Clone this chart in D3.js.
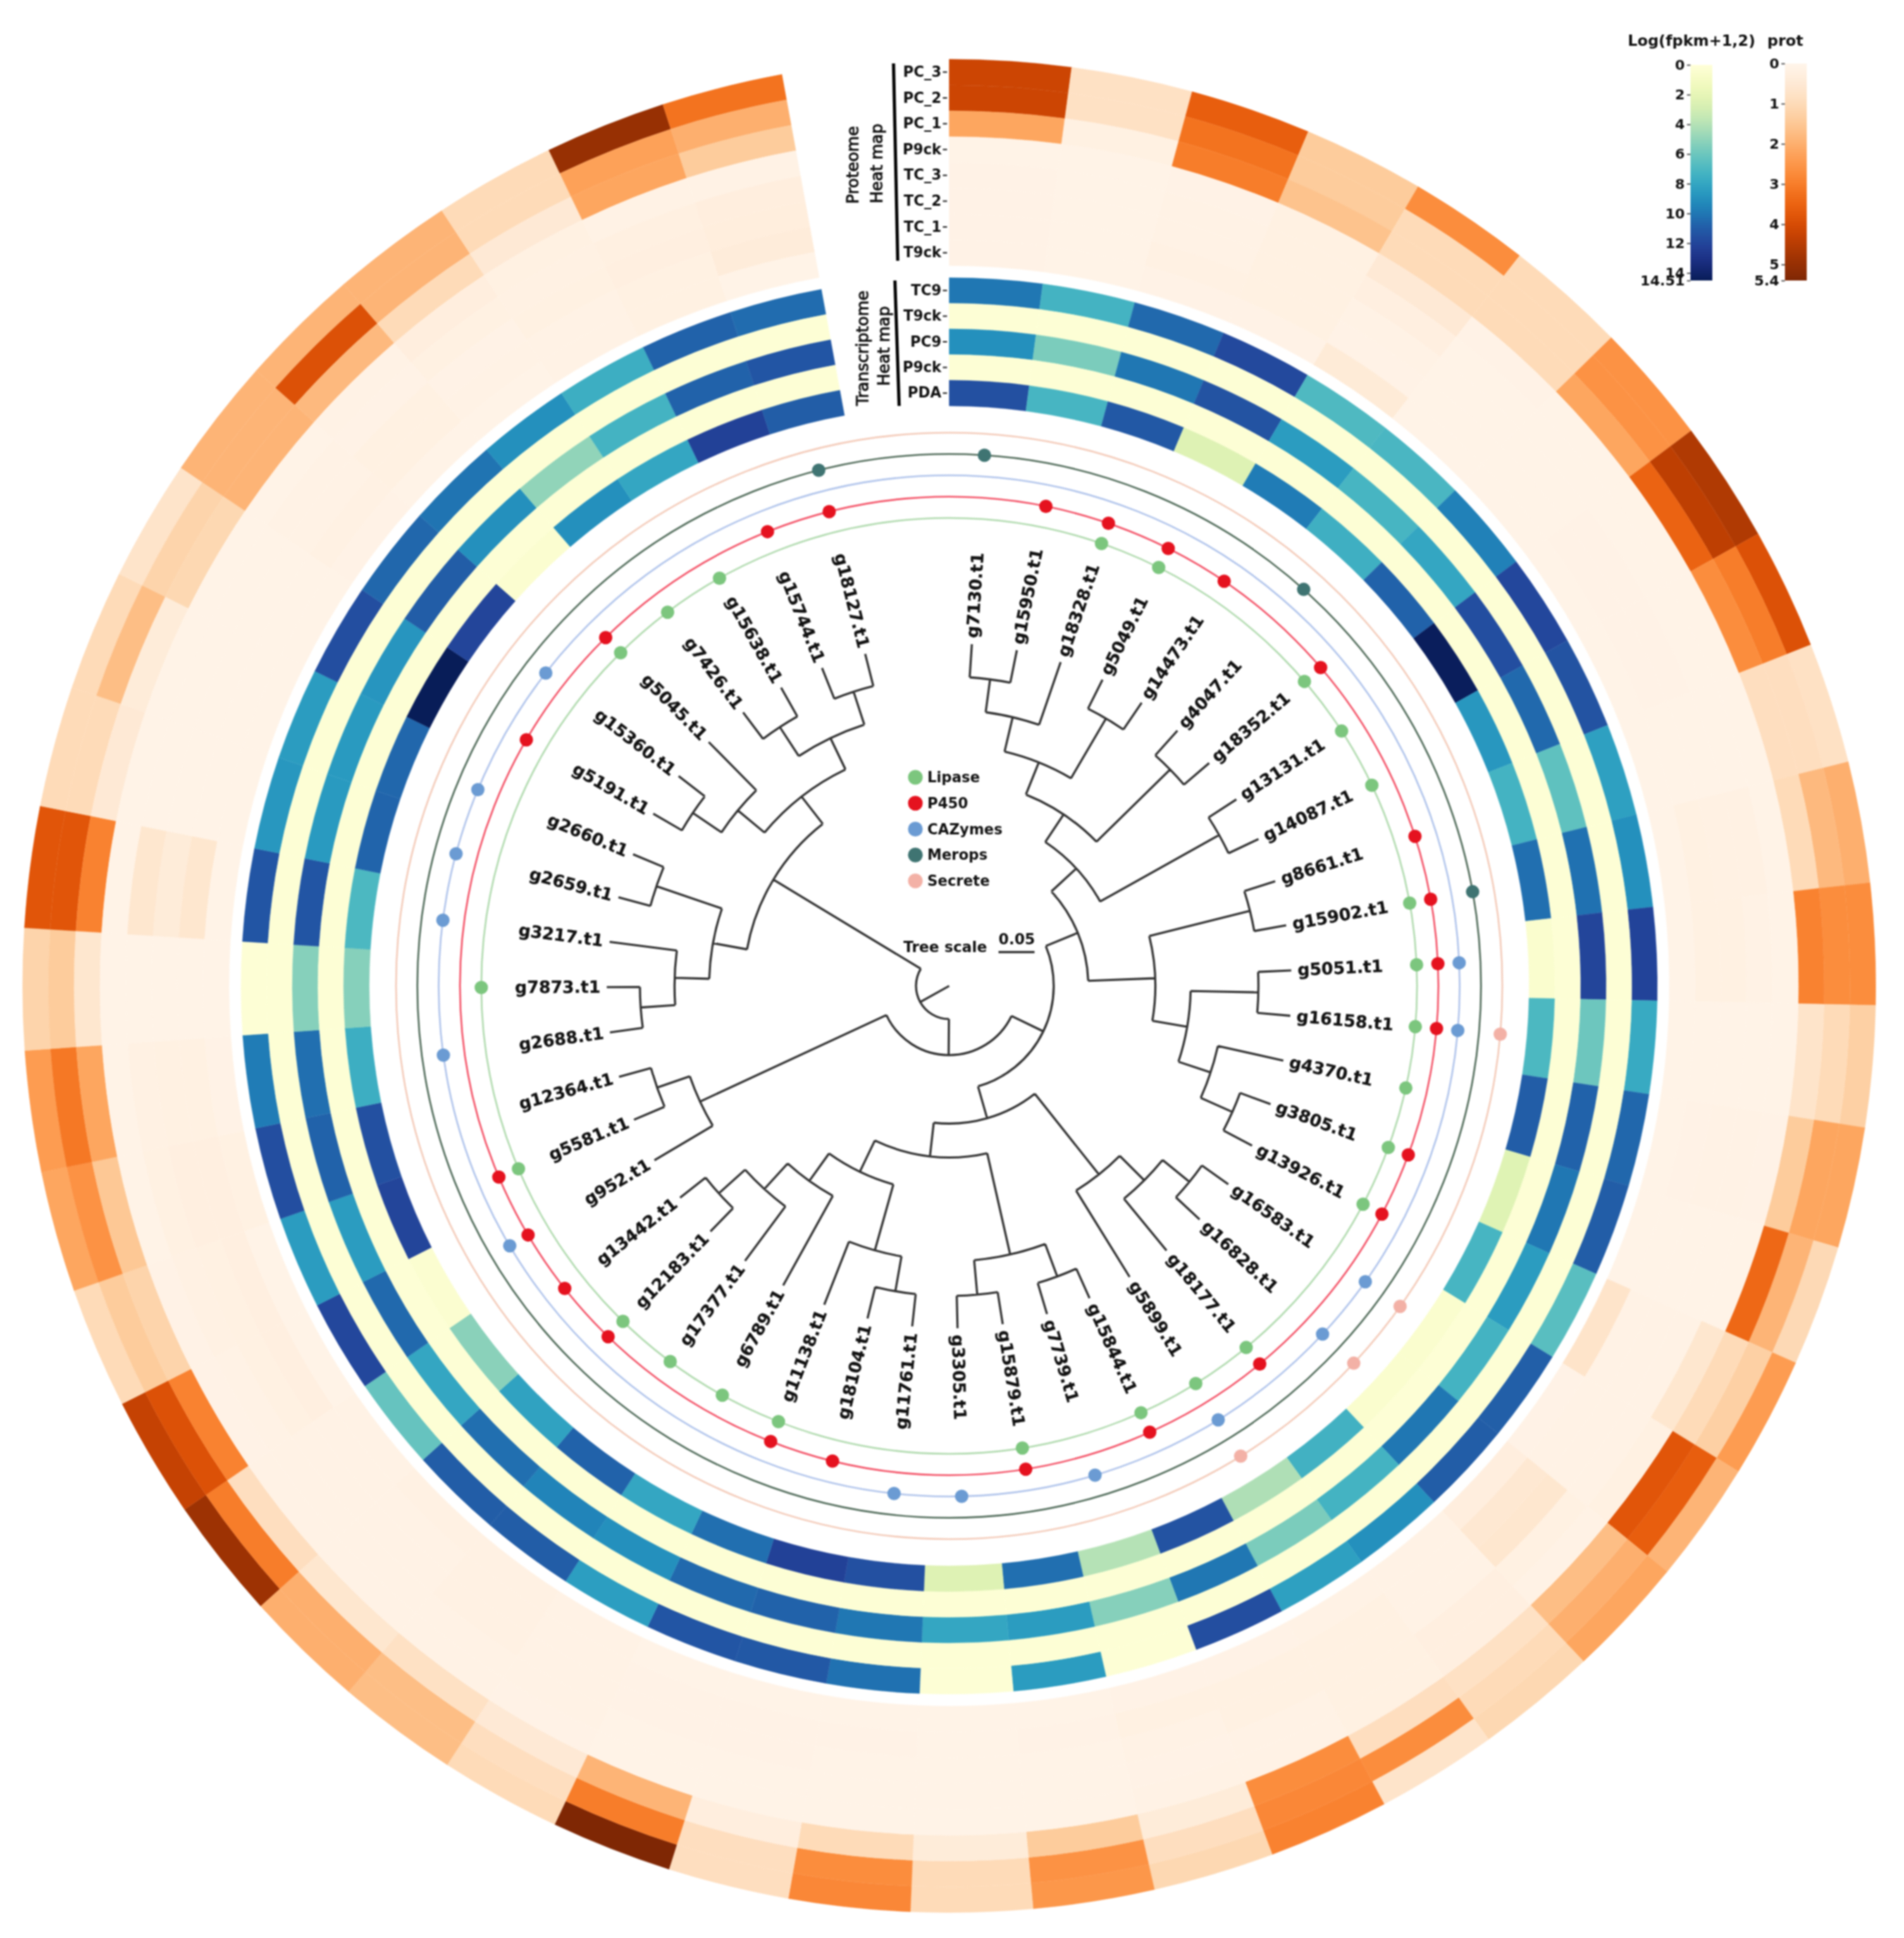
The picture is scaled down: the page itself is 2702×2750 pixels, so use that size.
<!DOCTYPE html>
<html>
<head>
<meta charset="utf-8">
<script src="https://cdn.jsdelivr.net/npm/d3@7"></script>
<style>
html, body { margin: 0; background: #fff; }
svg { display: block; filter: blur(1.1px); }
text { font-family: "DejaVu Sans", sans-serif; fill: #111; }
</style>
</head>
<body>
<svg id="chart" width="2702" height="2750"></svg>
<script>
// leaves, clockwise from the top of the circle
const leafNames = ['g7130.t1','g15950.t1','g18328.t1','g5049.t1','g14473.t1','g4047.t1','g18352.t1','g13131.t1','g14087.t1','g8661.t1','g15902.t1','g5051.t1','g16158.t1','g4370.t1','g3805.t1','g13926.t1','g16583.t1','g16828.t1','g18177.t1','g5899.t1','g15844.t1','g7739.t1','g15879.t1','g3305.t1','g11761.t1','g18104.t1','g11138.t1','g6789.t1','g17377.t1','g12183.t1','g13442.t1','g952.t1','g5581.t1','g12364.t1','g2688.t1','g7873.t1','g3217.t1','g2659.t1','g2660.t1','g5191.t1','g15360.t1','g5045.t1','g7426.t1','g15638.t1','g15744.t1','g18127.t1'];
const leafParents = ['n01','n01','n012','n34','n34','n56','n56','n78','n78','n910','n910','n1112','n1112','W','n1415','n1415','H','H','G','E','n2021','n2021','n2223','n2223','n2425','n2425','K','L','M','N','N','P','n3233','n3233','n3435','n3435','V2','n3738','n3738','n3940','n3940','S','n4243','n4243','n4445','n4445'];
const leafDepth = 0.475;

// internal nodes of the tree, depth in tree scale units
const nodeIds =     ['root','A',  'B',  'T',  'C',  'P',  'X',  'D',  'n245','Y',  'n3456','n78','n34x','n56','n012','n34','n01','n910','Z',  'n1112','W',  'n1415','E',  'F', 'G',  'H',  'I',  'J',  'n2223','n2021','K',  'L',  'n2425','M',  'N',  'n3233','U',  'R',  'S',  'O',  'n3940','n4243','n4445','n3738','V2', 'n3435'];
const nodeParents = [null,  'root','A', 'A',  'B',  'B',  'C',  'C',  'X',   'X',  'n245', 'n245','n3456','n3456','n34x','n34x','n012','Y','Y',  'Z',    'Z',  'W',    'D',  'D', 'E',  'G',  'F',  'F',  'I',    'I',    'J',  'J',  'K',    'L',  'M',  'P',    'T',  'T',  'R',  'R',  'S',    'O',    'O',    'U',    'U',  'V2'];
const nodeDepths =  [0,     0.046,0.096,0.285,0.145,0.381,0.193,0.191,0.24,  0.286,0.286, 0.429,0.334, 0.429,0.383, 0.43, 0.429,0.43,0.335,0.429,0.382,0.43,  0.334,0.238,0.382,0.43,0.382,0.286,0.43,  0.43,   0.381,0.333,0.43,   0.381,0.43, 0.429,  0.333,0.333,0.381,0.381,0.429,  0.429,  0.429,  0.429,  0.381,0.429];

// proteome heat map rings, outermost first
const proteomeRings = ['PC_3','PC_2','PC_1','P9ck','TC_3','TC_2','TC_1','T9ck'];
const protPC3 = [4.2,.8,3.6,1.4,2.7,1,2.6,4.6,3.9,.8,2,2.7,1.3,2.2,1.05,2.4,1.9,2.2,1.1,.7,2.9,1.1,2.5,1,2.8,.9,5.4,1,1.7,2,4.9,4.3,1,2.2,2.4,1.2,3.8,1,1,.7,1.9,1.9,1.9,1,5,3.2];
const protPC2 = [4.2,.8,3.2,1.4,1,1,2.6,4.4,3,.9,1.8,2.7,1,2.2,1.9,1.3,3.6,2,1,2.7,2.8,.9,2.6,1,2.7,.9,3,.9,1.7,2,3,3.9,1.4,2.6,3.1,1.4,3.8,1,1.7,1.2,1.9,3.9,1.9,1,2.3,2];
const protPC1 = [2.2,.2,3,1.6,1,1,2.2,3.5,2.7,.9,1,2.9,.7,1.4,3.4,1,3.8,1.7,.8,.9,2.7,.4,1.4,.4,1,.3,1.9,.5,.8,.6,.9,2.9,1.2,1.5,2.2,.6,2.9,.5,.4,1.1,1.9,1.8,1,.5,2.2,1.4];
const protP9 =  [.1,.1,.12,.2,.5,.12,.1,.1,.1,.1,.1,.1,.1,.12,.1,.6,.2,.15,.25,.2,.15,.15,.1,.1,.1,.1,.1,.12,.15,.15,.15,.12,.12,.1,.1,.1,.1,.1,.1,.1,.1,.15,.3,.2,.15,.15];
const protTC3 = [.12,.1,.15,.2,.25,.1,.1,.1,.1,.1,.18,.15,.1,.15,.1,.15,.15,.2,.25,.2,.15,.12,.1,.1,.1,.1,.1,.15,.15,.15,.15,.15,.18,.2,.18,.1,.6,.1,.1,.1,.15,.12,.2,.18,.22,.3];
const protTC2 = [.12,.1,.15,.2,.15,.1,.1,.12,.12,.1,.18,.2,.1,.15,.1,.15,.15,.6,.15,.2,.2,.15,.1,.1,.1,.12,.12,.15,.18,.15,.15,.2,.2,.25,.2,.1,.4,.1,.1,.1,.15,.2,.12,.2,.25,.32];
const protTC1 = [.12,.1,.18,.2,.12,.1,.1,.12,.12,.1,.2,.2,.1,.12,.1,.15,.15,.55,.15,.2,.2,.2,.12,.1,.12,.12,.12,.15,.18,.15,.15,.25,.25,.25,.2,.1,.6,.1,.1,.1,.18,.2,.15,.15,.2,.38];
const protT9 =  [.12,.1,.12,.12,.45,.1,.1,.1,.1,.1,.1,.1,.1,.1,.1,.7,.12,.3,.15,.15,.12,.12,.1,.1,.1,.1,.1,.15,.18,.18,.15,.1,.1,.2,.12,.1,.1,.1,.1,.1,.12,.1,.1,.15,.2,.1];
const proteomeValues = [protPC3, protPC2, protPC1, protP9, protTC3, protTC2, protTC1, protT9];

// transcriptome heat map rings, outermost first
const transRings = ['TC9','T9ck','PC9','P9ck','PDA'];
const transTC9 = [10,7.3,10.5,11.8,6.9,7.1,9.6,11.9,11.4,8.3,9,12.1,7.8,10.6,11,6.6,10.9,11,9,8.3,11.6,.2,8.5,.2,10.2,11.2,11.3,8.4,11,11,6.2,11.9,8.5,11.6,9.8,.2,11.3,8.7,8.5,11.6,10.6,10.1,9,7.6,10.8,10.4];
const transT9 =  [.2,.2,.2,.2,.2,.2,.2,.2,.2,.2,.2,.2,.2,.2,.2,.2,.2,.2,.2,.2,.2,.2,.2,.2,.2,.2,.2,.2,.2,.2,.2,.2,.2,.2,.2,.2,.2,.2,.2,.2,.2,.2,.2,.2,.2,.2];
const transPC9 = [9,5.6,10,11.4,8.5,7.2,8,11.6,10.5,6.4,10.2,12,6,10.8,10,8.5,7.3,10,7.3,5.6,10,5.3,8.5,8,10,10.8,10.5,9,9.5,10.3,8,10.5,8.5,10.8,10.3,5.3,11.3,8.6,8.6,8.8,11,9,5,7.3,10.8,11.3];
const transP9 =  [.2,.2,.2,.2,.2,.2,.2,.2,.2,.2,.2,.2,.2,.2,.2,.2,.2,.2,.2,.2,.2,.2,.2,.2,.2,.2,.2,.2,.2,.2,.2,.2,.2,.2,.2,.2,.2,.2,.2,.2,.2,.2,.2,.2,.2,.2];
const transPDA = [11.5,7.2,11.2,2.5,9.8,7.5,10.8,14.4,8.7,7.3,10.3,.5,7,11,2.4,7.2,.5,.5,7.4,4.2,11.4,4,10.3,2.5,11.5,12.2,10.3,8,10.8,8.2,5.2,.4,12,11.5,7.6,5.3,7,10.7,10.6,14.5,12,.4,9,8,12.2,11];
const transValues = [transTC9, transT9, transPC9, transP9, transPDA];

// annotation rings: which leaf (by index) carries a dot
const featureNames = ['Lipase','P450','CAZymes','Merops','Secrete'];
const featureColors = ['#7cc67e','#e5121f','#6b9bd3','#3f7472','#f3b1a6'];
const lineColors = ['#b4dcb2','#f4586c','#b3c6ec','#56705f','#f4cdbc'];
const lipaseLeaves = [2,3,6,7,8,10,11,12,13,14,15,18,19,20,22,26,27,28,29,32,35,41,42,43];
const p450Leaves = [1,2,3,4,6,9,10,11,12,14,15,18,20,22,25,26,29,30,31,32,39,41,44,45];
const cazymeLeaves = [11,12,16,17,19,21,23,24,31,34,36,37,38,40];
const meropsLeaves = [0,5,10,45];
const secreteLeaves = [12,16,17,19];
const featureLeaves = [lipaseLeaves, p450Leaves, cazymeLeaves, meropsLeaves, secreteLeaves];

const expTicks = [0,2,4,6,8,10,12,14,14.51];
const protTicks = [0,1,2,3,4,5,5.4];

const svg = d3.select('#chart');
const chart = svg.append('g').attr('transform', 'translate(1347,1399)');

const angle = d3.scaleBand().domain(leafNames).range([0, 349.6 * Math.PI / 180]);
const midAngle = name => angle(name) + angle.bandwidth() / 2;

const expColor = d3.scaleSequential(d3.interpolateYlGnBu).domain([0, 14.51]);
const protColor = d3.scaleSequential(d3.interpolateOranges).domain([0, 5.4]);

// ring scales run on the vertical through the centre, so the axis can share them
const proteomeY = d3.scaleBand().domain(proteomeRings).range([-1315, -1022]);
const transY = d3.scaleBand().domain(transRings).range([-1005, -823]);

const cell = d3.arc();

function drawRings(names, values, y, color) {
    names.forEach((ring, k) => {
        chart.append('g').selectAll('path')
            .data(values[k])
            .join('path')
            .attr('d', (v, i) => cell({
                innerRadius: -(y(ring) + y.bandwidth()),
                outerRadius: -y(ring),
                startAngle: angle(leafNames[i]),
                endAngle: angle(leafNames[i]) + angle.bandwidth()
            }))
            .attr('fill', v => color(v))
            .attr('stroke', v => color(v))
            .attr('stroke-width', 0.4);
    });
}
drawRings(proteomeRings, proteomeValues, proteomeY, protColor);
drawRings(transRings, transValues, transY, expColor);

function ringAxis(y) {
    const g = chart.append('g')
        .attr('transform', 'translate(-3,0)')
        .call(d3.axisLeft(y).tickSize(6).tickPadding(2));
    g.select('.domain').remove();
    g.selectAll('line').attr('stroke', '#222').attr('stroke-width', 2);
    g.selectAll('text').attr('font-size', 20.5).attr('font-weight', 700).attr('font-family', '"DejaVu Sans"');
}
ringAxis(proteomeY);
ringAxis(transY);

// slanted black bars and titles next to the ring labels
const brackets = [[[1268, 90], [1274, 370]], [[1270, 398], [1276, 576]]];
svg.append('g').selectAll('line')
    .data(brackets)
    .join('line')
    .attr('x1', d => d[0][0]).attr('y1', d => d[0][1])
    .attr('x2', d => d[1][0]).attr('y2', d => d[1][1])
    .attr('stroke', '#000').attr('stroke-width', 4.5);

const sideTitles = [['Proteome', 1210, 234], ['Heat map', 1244, 232], ['Transcriptome', 1224, 494], ['Heat map', 1254, 491]];
svg.append('g').selectAll('text')
    .data(sideTitles)
    .join('text')
    .attr('transform', d => `translate(${d[1]},${d[2]}) rotate(-90)`)
    .attr('text-anchor', 'middle')
    .attr('dominant-baseline', 'central')
    .attr('font-size', 23)
    .attr('stroke', '#111')
    .attr('stroke-width', 0.9)
    .text(d => d[0]);

// annotation rings
const featureR = d3.scalePoint().domain(featureNames).range([664, 785]);

chart.append('g').selectAll('circle')
    .data(featureNames)
    .join('circle')
    .attr('r', d => featureR(d))
    .attr('fill', 'none')
    .attr('stroke', (d, i) => lineColors[i])
    .attr('stroke-width', 2.6);

featureNames.forEach((f, k) => {
    chart.append('g').selectAll('circle')
        .data(featureLeaves[k])
        .join('circle')
        .attr('cx', i => featureR(f) * Math.sin(midAngle(leafNames[i])))
        .attr('cy', i => -featureR(f) * Math.cos(midAngle(leafNames[i])))
        .attr('r', 9.5)
        .attr('fill', featureColors[k]);
});

// tree
const rows = nodeIds.map((id, i) => ({ id: id, parent: nodeParents[i], depth: nodeDepths[i] }))
    .concat(leafNames.map((id, i) => ({ id: id, parent: leafParents[i], depth: leafDepth })));
const root = d3.stratify().id(d => d.id).parentId(d => d.parent)(rows);
const treeR = d3.scaleLinear().domain([0, 1]).range([0, 1023]);

root.eachAfter(n => {
    if (n.children) {
        const a = n.children.map(c => c.a);
        n.a0 = d3.min(a);
        n.a1 = d3.max(a);
        n.a = (n.a0 + n.a1) / 2;
    } else {
        n.a = midAngle(n.id);
    }
});

const treePath = d3.path();
root.each(n => {
    const r = treeR(n.data.depth);
    if (n.parent) {
        const r0 = treeR(n.parent.data.depth);
        treePath.moveTo(r0 * Math.sin(n.a), -r0 * Math.cos(n.a));
        treePath.lineTo(r * Math.sin(n.a), -r * Math.cos(n.a));
    }
    if (n.children && r > 0) {
        treePath.moveTo(r * Math.sin(n.a0), -r * Math.cos(n.a0));
        treePath.arc(0, 0, r, n.a0 - Math.PI / 2, n.a1 - Math.PI / 2);
    }
});
chart.append('path')
    .attr('d', treePath.toString())
    .attr('fill', 'none')
    .attr('stroke', '#333')
    .attr('stroke-width', 3.1);

// leaf labels, flipped on the left half so they stay readable
chart.append('g').selectAll('text')
    .data(leafNames)
    .join('text')
    .attr('transform', d => {
        const deg = midAngle(d) * 180 / Math.PI;
        const r = treeR(leafDepth) + 9;
        return `rotate(${deg - 90}) translate(${r},0)` + (deg > 180 ? ' rotate(180)' : '');
    })
    .attr('text-anchor', d => midAngle(d) > Math.PI ? 'end' : 'start')
    .attr('dominant-baseline', 'central')
    .attr('font-size', 24)
    .attr('font-weight', 700)
    .attr('stroke', '#111')
    .attr('stroke-width', 0.3)
    .text(d => d);

// feature legend in the middle of the tree
const legendY = d3.scalePoint().domain(featureNames).range([1103, 1250]);
const legend = svg.append('g');
legend.selectAll('circle')
    .data(featureNames)
    .join('circle')
    .attr('cx', 1299)
    .attr('cy', d => legendY(d))
    .attr('r', 10.5)
    .attr('fill', (d, i) => featureColors[i]);
legend.selectAll('text')
    .data(featureNames)
    .join('text')
    .attr('x', 1316)
    .attr('y', d => legendY(d))
    .attr('dominant-baseline', 'central')
    .attr('font-size', 20.5)
    .attr('font-weight', 700)
    .text(d => d);

// tree scale
svg.append('text').attr('x', 1282).attr('y', 1344)
    .attr('dominant-baseline', 'central')
    .attr('font-size', 21).attr('font-weight', 700)
    .text('Tree scale');
svg.append('text').attr('x', 1443).attr('y', 1333)
    .attr('text-anchor', 'middle')
    .attr('dominant-baseline', 'central')
    .attr('font-size', 21).attr('font-weight', 700)
    .text('0.05');
svg.append('line')
    .attr('x1', 1417).attr('x2', 1417 + treeR(0.05))
    .attr('y1', 1351).attr('y2', 1351)
    .attr('stroke', '#222').attr('stroke-width', 3);

// colour bars
const defs = svg.append('defs');
function colorBar(id, title, titleX, x, y0, y1, color, ticks, max) {
    const grad = defs.append('linearGradient').attr('id', id)
        .attr('x1', 0).attr('x2', 0).attr('y1', 0).attr('y2', 1);
    d3.range(0, 1.01, 0.05).forEach(t => {
        grad.append('stop').attr('offset', t).attr('stop-color', color(t * max));
    });
    svg.append('rect')
        .attr('x', x).attr('y', y0)
        .attr('width', 31).attr('height', y1 - y0)
        .attr('fill', `url(#${id})`);
    const s = d3.scaleLinear().domain([0, max]).range([y0, y1]);
    const g = svg.append('g')
        .attr('transform', `translate(${x},0)`)
        .call(d3.axisLeft(s).tickValues(ticks).tickFormat(d => d).tickSize(5).tickPadding(3));
    g.select('.domain').remove();
    g.selectAll('line').attr('stroke', '#333').attr('stroke-width', 1.5);
    g.selectAll('text').attr('font-size', 20).attr('font-weight', 700).attr('font-family', '"DejaVu Sans"');
    svg.append('text')
        .attr('x', titleX).attr('y', 57)
        .attr('dominant-baseline', 'central')
        .attr('font-size', 21.5).attr('font-weight', 700)
        .text(title);
}
colorBar('expGrad', 'Log(fpkm+1,2)', 2310, 2399, 92, 398, expColor, expTicks, 14.51);
colorBar('protGrad', 'prot', 2508, 2533, 90, 398, protColor, protTicks, 5.4);
</script>
</body>
</html>
